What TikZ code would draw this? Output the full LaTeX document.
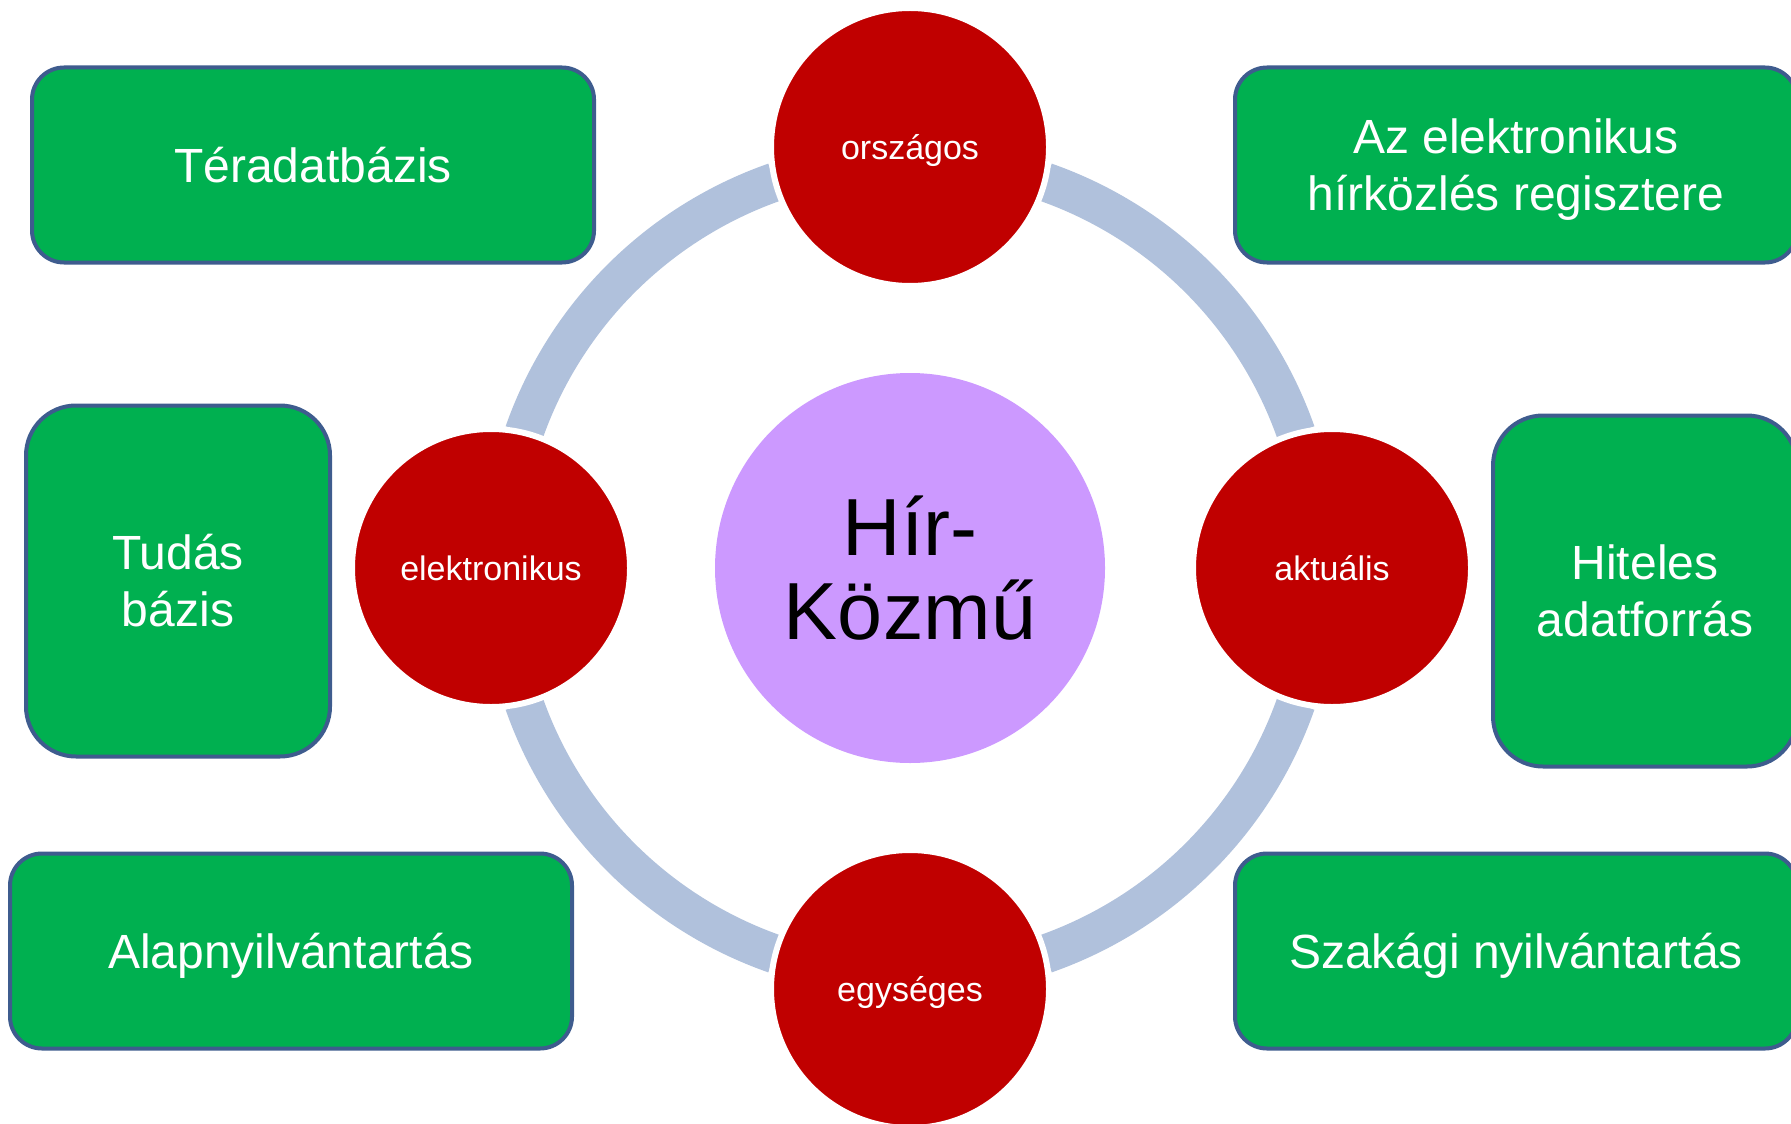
\documentclass[tikz,border=0pt]{standalone}
\usepackage{fontspec}
\setmainfont{Liberation Sans}
\definecolor{boxgreen}{HTML}{00B050}
\definecolor{boxline}{HTML}{3E5C8E}
\definecolor{dotred}{HTML}{C00000}
\definecolor{hubviolet}{HTML}{CC99FF}
\definecolor{ringblue}{HTML}{B0C1DC}
\tikzset{
  widebox/.style={rectangle, rounded corners=16pt, draw=boxline, line width=2pt,
    fill=boxgreen, text=white, align=center, minimum width=281pt, minimum height=97.5pt,
    font=\fontsize{24}{28.5}\selectfont},
  tallbox/.style={widebox, rounded corners=25pt, minimum width=152pt, minimum height=175.5pt},
  oneline/.style={text height=22.2pt, text depth=5pt},
  reddot/.style={circle, fill=dotred, draw=white, line width=3pt, text=white,
    minimum size=139pt, inner sep=0pt, text height=16.2pt, text depth=4pt,
    font=\fontsize{17}{20}\selectfont},
  hubdot/.style={circle, fill=hubviolet, minimum size=195pt, inner sep=0pt, align=center,
    font=\fontsize{40.5}{42}\selectfont},
  ring/.style={draw=ringblue, line width=19.5pt}
}
\begin{document}
\begin{tikzpicture}[x=0.5pt, y=-0.5pt]
  \useasboundingbox (0,0) rectangle (1791,1123);
  \clip (0,0) rectangle (1791,1123);

  % centre
  \node[hubdot] (hub) at (910, 568) {Hír-\\Közmű};

  % ring pieces between the red circles
  \foreach \a in {19.3, 109.3, 199.3, 289.3}
    \draw[ring] (hub.center) ++(\a:204.5pt) arc[start angle=\a, delta angle=51.4, radius=204.5pt];

  % red circles on the ring
  \node[reddot] (orszagos) at (910, 147) {országos}; % top
  \node[reddot] (elektro) at (491, 568) {elektronikus}; % left
  \node[reddot] (aktualis) at (1332, 568) {aktuális}; % right
  \node[reddot] (egyseges) at (910, 989) {egységes}; % bottom

  % green boxes, left side
  \node[widebox, oneline] (teradat) at (313, 165) {Téradatbázis};
  \node[tallbox] (tudas) at (178, 581) {Tudás\\bázis};
  \node[widebox, oneline] (alap) at (291, 951) {Alapnyilvántartás};

  % green boxes, right side
  \node[widebox, text depth=0pt] (regiszter) at (1516, 165) {Az elektronikus\\hírközlés regisztere};
  \node[tallbox] (hiteles) at (1645, 591) {Hiteles\\adatforrás};
  \node[widebox, oneline] (szakagi) at (1516, 951) {Szakági nyilvántartás};
\end{tikzpicture}
\end{document}
